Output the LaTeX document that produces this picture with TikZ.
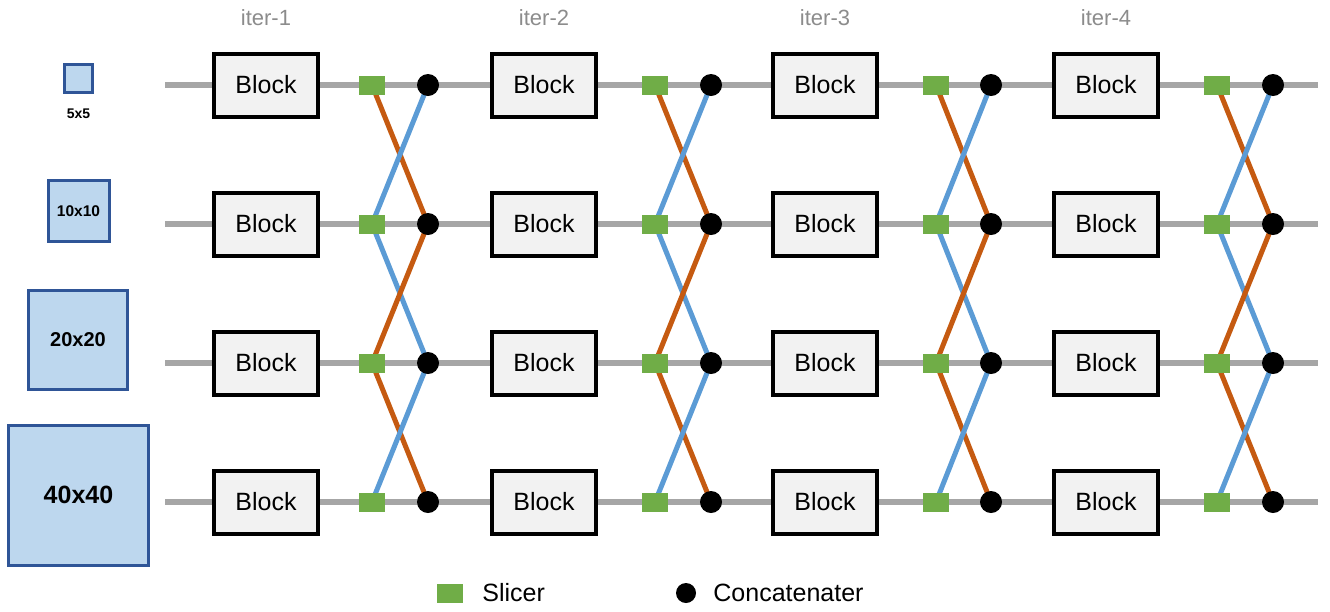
\documentclass[tikz,border=0pt]{standalone}
\usepackage{fontspec}
\setmainfont{Liberation Sans}
\usetikzlibrary{backgrounds,positioning}

\definecolor{railGrey}{HTML}{A6A6A6}
\definecolor{iterGrey}{HTML}{8C8C8C}
\definecolor{sliceGreen}{HTML}{70AD47}
\definecolor{downOrange}{HTML}{C55A11}
\definecolor{upBlue}{HTML}{5B9BD5}
\definecolor{resBlue}{HTML}{2F5597}
\definecolor{resFill}{HTML}{BDD7EE}

\begin{document}
\begin{tikzpicture}[x=1pt,y=-1pt,
  block/.style={draw=black, line width=4pt, fill=black!5, minimum width=104pt,
    minimum height=63pt, inner sep=0pt, font=\fontsize{25}{30}\selectfont},
  slicer/.style={fill=sliceGreen, minimum width=26pt, minimum height=19pt, inner sep=0pt},
  concat/.style={circle, fill=black, minimum size=22pt, inner sep=0pt},
  res/.style={draw=resBlue, line width=3pt, fill=resFill, inner sep=0pt},
  iterlabel/.style={text=iterGrey, font=\fontsize{22}{26}\selectfont},
  keytext/.style={inner sep=0pt, font=\fontsize{25}{30}\selectfont},
  rail/.style={railGrey, line width=5.5pt},
  down/.style={downOrange, line width=5pt},
  up/.style={upBlue, line width=5pt}]
\useasboundingbox (0,0) rectangle (1330,611);

% input resolutions
\node [res, minimum size=28pt] (res5) at (78.5,78.5) {};
\node [font=\fontsize{14}{16}\selectfont\bfseries] (res5text) at (78.5,114) {5x5};
\node [res, minimum size=61pt, font=\fontsize{15.5}{18}\selectfont\bfseries] (res10) at (78.5,211) {10x10};
\node [res, minimum size=99pt, font=\fontsize{20}{24}\selectfont\bfseries] (res20) at (78,340) {20x20};
\node [res, minimum size=140pt, font=\fontsize{25}{30}\selectfont\bfseries] (res40) at (78.5,495) {40x40};

% rails
\foreach \r/\y in {1/85,2/224,3/363,4/502} {
  \coordinate (L\r) at (165,\y);
  \coordinate (R\r) at (1318,\y);
}

% iterations
\foreach \c/\xb/\xs/\xk in {1/266/372/428,2/544/655/711,3/825/936/991,4/1106/1217/1273} {
  \node [iterlabel] (iter\c) at (\xb,18) {iter-\c};
  \foreach \r/\y in {1/85,2/224,3/363,4/502} {
    \node [block] (b\c\r) at (\xb,\y) {Block};
    \node [slicer] (s\c\r) at (\xs,\y) {};
    \node [concat] (k\c\r) at (\xk,\y) {};
  }
}

\begin{scope}[on background layer]
\foreach \r in {1,...,4}
  \draw [rail] (L\r) -- (R\r);
\foreach \c in {1,...,4} {
  \draw [down] (s\c1.center) -- (k\c2.center);
  \draw [up] (s\c2.center) -- (k\c1.center);
  \draw [up] (s\c2.center) -- (k\c3.center);
  \draw [down] (s\c3.center) -- (k\c2.center);
  \draw [down] (s\c3.center) -- (k\c4.center);
  \draw [up] (s\c4.center) -- (k\c3.center);
}
\end{scope}

% legend
\node [slicer] (keySl) at (450,593) {};
\node [keytext, right=19pt of keySl] (keySlText) {Slicer};
\node [concat, minimum size=20pt] (keyCc) at (686,593) {};
\node [keytext, right=17pt of keyCc] (keyCcText) {Concatenater};
\end{tikzpicture}
\end{document}
